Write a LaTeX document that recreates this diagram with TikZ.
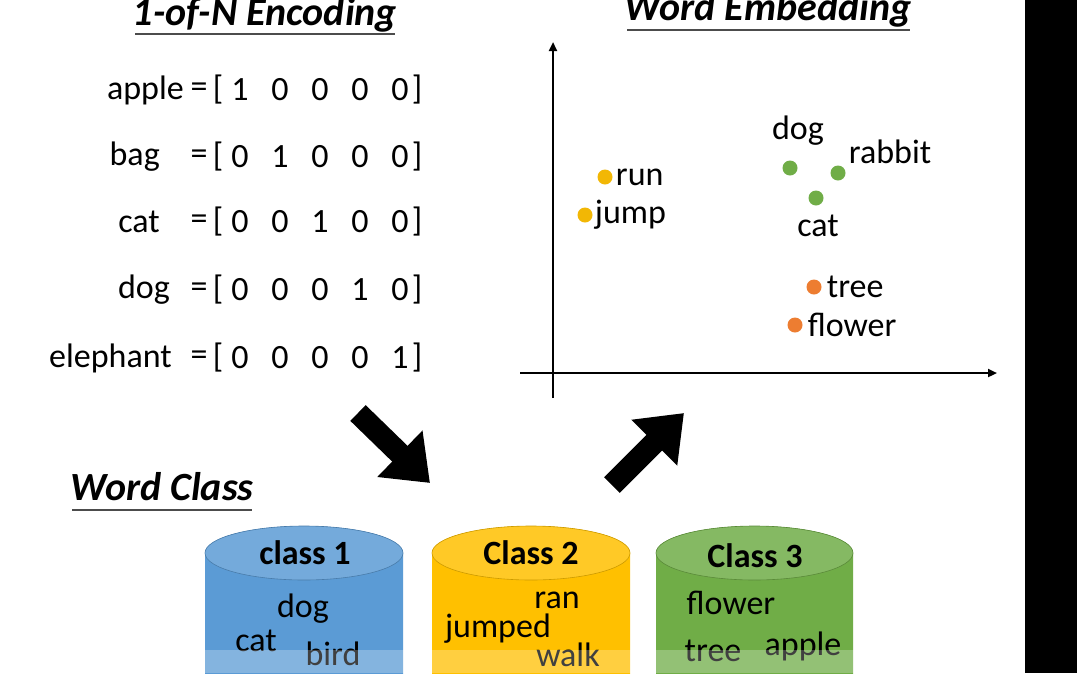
\documentclass[tikz,border=0pt]{standalone}
\usepackage{fontspec}
\setmainfont{Carlito}
\usetikzlibrary{arrows.meta,positioning,shapes.geometric}
\definecolor{cblue}{HTML}{5B9BD5}
\definecolor{cyellow}{HTML}{FFC000}
\definecolor{cgreen}{HTML}{70AD47}
\definecolor{corange}{HTML}{ED7D31}
\definecolor{cgold}{HTML}{F2B705}
\tikzset{
  word/.style={font=\fontsize{34}{36}\selectfont, inner sep=0pt},
  label/.style={font=\fontsize{34}{36}\selectfont\bfseries, inner sep=0pt},
  title/.style={font=\fontsize{40}{42}\selectfont\bfseries\itshape, inner sep=0pt},
  dot/.style={circle, fill=#1, minimum size=15pt, inner sep=0pt},
  big arrow/.style={line width=22pt, -{Triangle[length=42pt,width=62pt]}},
}
\newcommand{\barrel}[3]{% x left, x right, colour
  \fill[#3] (#1,553) -- (#1,680) -- (#2,680) -- (#2,553) arc[start angle=0,end angle=-180,x radius={(#2-#1)/2},y radius=27] -- cycle;
  \fill[#3!85!white] ({(#1+#2)/2},553) ellipse [x radius={(#2-#1)/2}, y radius=27];
  \draw[#3!80!black, line width=0.6pt] ({(#1+#2)/2},553) ellipse [x radius={(#2-#1)/2}, y radius=27];
}
\begin{document}
\begin{tikzpicture}[x=1pt,y=-1pt]
  \useasboundingbox (0,0) rectangle (1077,673);
  \fill[white] (0,0) rectangle (1077,673);
  \fill[black] (1025,0) rectangle (1077,673);

  % 1-of-N
  \node[title, anchor=base] (enc) at (265,25) {1-of-N Encoding};
  \draw[line width=1.5pt, gray!60!black] (135,34) -- (395,34);
  \foreach \w/\e/\y/\v in {apple/184/90/1, bag/160/157/2, cat/160/222/3, dog/170/290/4, elephant/172/358/5} {
    \node[word, anchor=east] (w\v) at (\e,\y) {\w};
    \node[word] (eq\v) at (199,\y) {=};
    \node[word] (lb\v) at (218,\y) {[};
    \foreach \k in {1,...,5} {
      \pgfmathtruncatemacro{\bit}{\k==\v ? 1 : 0}
      \node[word] (b\v\k) at ({200+40*\k},\y) {\bit};
    }
    \node[word] (rb\v) at (417,\y) {]};
  }

  % word embedding
  \node[title, anchor=base] (emb) at (768,20) {Word Embedding};
  \draw[line width=1.5pt, gray!60!black] (627,30) -- (910,30);
  \coordinate (ybot) at (553,398);
  \coordinate (ytop) at (553,42);
  \coordinate (xl) at (520,373);
  \coordinate (xr) at (997,373);
  \draw[line width=2.2pt, -{Triangle[length=9pt,width=8pt]}] (ybot) -- (ytop);
  \draw[line width=2.2pt, -{Triangle[length=9pt,width=8pt]}] (xl) -- (xr);
  \node[dot=cgold] (run) at (605,177) {};
  \node[word, right=3pt of run] {run};
  \node[dot=cgold] (jump) at (585,215) {};
  \node[word, right=2pt of jump] {jump};
  \node[dot=cgreen] (gdog) at (790,168) {};
  \node[dot=cgreen] (grab) at (838,173) {};
  \node[dot=cgreen] (gcat) at (816,198) {};
  \node[word] at (798,131) {dog};
  \node[word] at (890,152) {rabbit};
  \node[word] at (818,226) {cat};
  \node[dot=corange] (tree) at (814,287) {};
  \node[word, right=5pt of tree] {tree};
  \node[dot=corange] (flower) at (795,325) {};
  \node[word, right=5pt of flower] {flower};

  % arrows
  \coordinate (a1s) at (358,413);
  \coordinate (a1e) at (430,483);
  \coordinate (a2s) at (612,485);
  \coordinate (a2e) at (684,413);
  \draw[big arrow] (a1s) -- (a1e);
  \draw[big arrow] (a2s) -- (a2e);

  % word class
  \node[title, anchor=base] (cls) at (162,500) {Word Class};
  \draw[line width=1.5pt, gray!60!black] (72,510) -- (252,510);
  \barrel{205}{403}{cblue}
  \barrel{432}{630}{cyellow}
  \barrel{656}{853}{cgreen}
  \node[label] (c1) at (305,553) {class 1};
  \node[word] at (303,609) {dog};
  \node[word] at (256,641) {cat};
  \node[word] at (333,654) {bird};
  \node[label] (c2) at (531,553) {Class 2};
  \node[word] at (557,600) {ran};
  \node[word] at (498,629) {jumped};
  \node[word] at (568,655) {walk};
  \node[label] (c3) at (755,556) {Class 3};
  \node[word] at (731,603) {flower};
  \node[word] at (713,651) {tree};
  \node[word] at (803,646) {apple};
  \fill[white, opacity=0.25] (0,650) rectangle (1025,673);
\end{tikzpicture}
\end{document}
